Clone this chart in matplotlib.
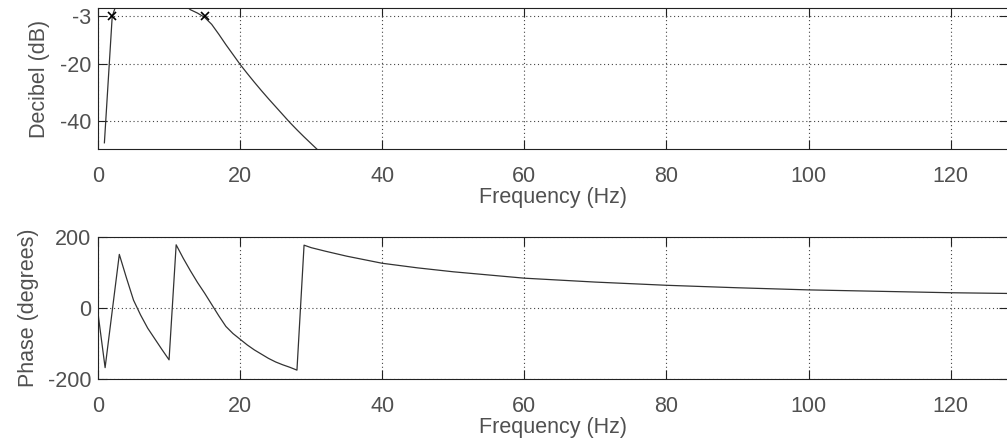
import matplotlib
matplotlib.use("Agg")
import matplotlib.pyplot as plt

# magnitude response (dB)
mag_freq = [0.9, 2, 3, 4, 6, 8, 10, 11, 12, 13, 14, 15, 16, 17, 18, 19, 20,
            21, 22, 23, 24, 25, 26, 27, 28, 29, 30, 31, 32]
mag_db = [-47.8, -3, 4.5, 5, 5, 5, 5, 4, 1.5, -0.6, -1.8, -3.3, -5.8, -9.3, -13,
          -16.5, -20, -23.2, -26.3, -29.3, -32.2, -35, -37.8, -40.6, -43.2,
          -45.7, -48.1, -50.5, -52.8]

# -3 dB cutoff markers
cut_freq = [2, 15]
cut_db = [-3, -3]

# phase response (degrees)
ph_freq = [0, 1, 3, 4, 5, 6, 7, 8, 9, 10, 11, 12, 13, 14, 15, 16, 17, 18, 19,
           20, 21, 22, 23, 24, 25, 26, 27, 28, 29, 30, 32, 35, 40, 45, 50, 55,
           60, 70, 80, 90, 100, 110, 120, 128]
ph_deg = [-15, -168, 151, 85, 22, -20, -57, -87, -117, -146, 178, 140, 105, 72,
          42, 10, -22, -52, -72, -88, -104, -118, -130, -142, -152, -160, -167,
          -175, 177, 170, 160, 146, 126, 113, 102, 93, 84, 73, 64, 57, 51, 47,
          43, 41]

x_ticks = [0, 20, 40, 60, 80, 100, 120]

plt.rcParams['font.family'] = ['Liberation Sans', 'DejaVu Sans']
plt.rcParams['axes.unicode_minus'] = False
txt = '#505050'
line_c = '#333333'

fig = plt.figure(figsize=(10.07, 4.46), dpi=100)
ax1 = fig.add_axes([98 / 1007, 1 - 149 / 446, 909.5 / 1007, 141 / 446])
ax2 = fig.add_axes([98 / 1007, 1 - 379 / 446, 909.5 / 1007, 142 / 446])


def style(ax):
    ax.set_xlim(0, 128)
    ax.set_xticks(x_ticks)
    ax.grid(True, color='#444444', linestyle=(0, (1, 2.5)), linewidth=0.8)
    ax.tick_params(direction='in', length=6.5, width=0.8, top=True, right=True,
                   labelsize=15.5, labelcolor=txt, color='#222222')
    ax.tick_params(axis='x', pad=12)
    ax.tick_params(axis='y', pad=5)
    for s in ax.spines.values():
        s.set_linewidth(0.8)
        s.set_color('#222222')
    ax.set_xlabel('Frequency (Hz)', fontsize=15.5, color=txt, labelpad=0)


ax1.plot(mag_freq, mag_db, color=line_c, linewidth=0.9)
ax1.plot(cut_freq, cut_db, 'x', color='black', markersize=6, markeredgewidth=1.2)
ax1.set_ylim(-50, 0)
ax1.set_yticks([-40, -20, -3])
style(ax1)
ax1.set_ylabel('Decibel (dB)', fontsize=15.5, color=txt, labelpad=7)

ax2.plot(ph_freq, ph_deg, color=line_c, linewidth=0.9)
ax2.set_ylim(-200, 200)
ax2.set_yticks([-200, 0, 200])
style(ax2)
ax2.set_ylabel('Phase (degrees)', fontsize=15.5, color=txt, labelpad=6)

fig.savefig('out.png', dpi=100)
